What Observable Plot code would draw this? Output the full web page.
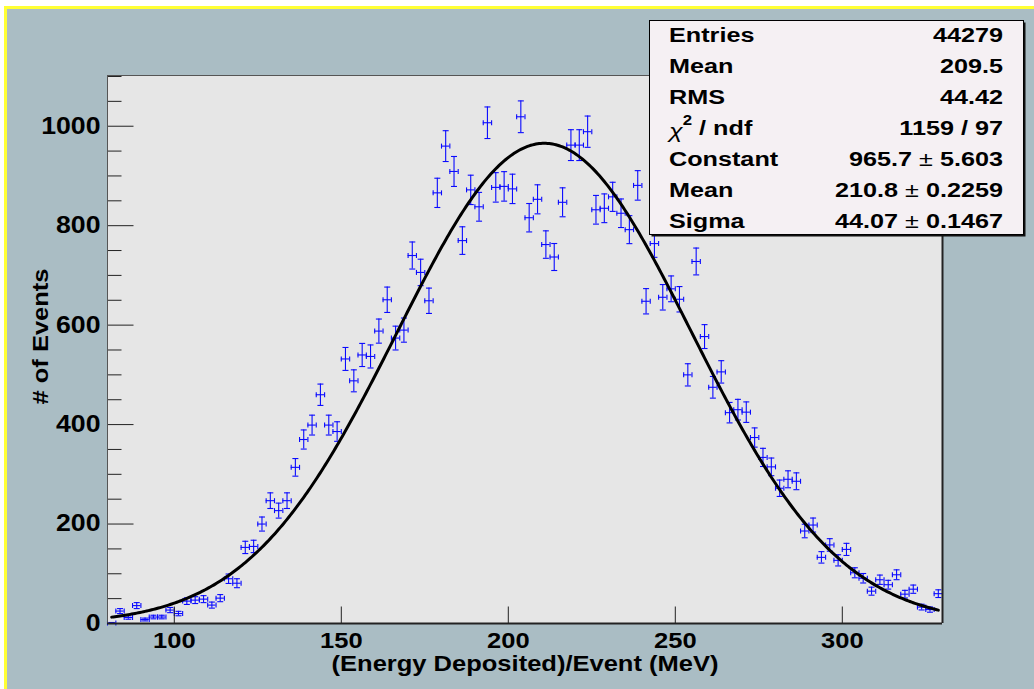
<!DOCTYPE html>
<html>
<head>
<meta charset="utf-8">
<script src="https://cdn.jsdelivr.net/npm/d3@7"></script>
<script src="https://cdn.jsdelivr.net/npm/@observablehq/plot@0.6"></script>
<style>
  html, body { margin: 0; padding: 0; background: #ffffff; }
  #chart { width: 1034px; height: 689px; }
</style>
</head>
<body>
<div id="chart"></div>
<script>
// Histogram binning: 100 bins of 2.5 MeV from 80 to 330 MeV
const binLow = 80;
const binWidth = 2.5;

// Events per bin
const counts = [
  1, 25, 12, 36, 8, 13, 13, 27, 20, 45,
  47, 49, 37, 51, 90, 81, 153, 155, 200, 247,
  227, 247, 314, 370, 399, 460, 399, 386, 532, 488,
  540, 537, 588, 651, 574, 590, 740, 706, 649, 866,
  960, 909, 770, 872, 838, 1007, 877, 879, 874, 1019,
  816, 853, 762, 737, 847, 962, 962, 989, 832, 835,
  858, 825, 792, 881, 648, 764, 656, 673, 652, 500,
  728, 577, 475, 506, 424, 430, 425, 374, 334, 315,
  272, 290, 286, 186, 198, 133, 158, 127, 149, 102,
  91, 65, 88, 78, 98, 59, 69, 33, 28, 60
];

// Gaussian fit parameters (from the statistics box)
const fitConstant = 965.7;
const fitMean = 210.8;
const fitSigma = 44.07;

// Statistics box rows
const statsLabels = ["Entries", "Mean", "RMS", "chi2", "Constant", "Mean", "Sigma"];
const statsValues = ["44279", "209.5", "44.42", "1159 / 97", "965.7 \u00b1 5.603", "210.8 \u00b1 0.2259", "44.07 \u00b1 0.1467"];

// Axis ticks
const xTicks = [100, 150, 200, 250, 300];
const yTicks = [0, 200, 400, 600, 800, 1000];
const yMinorTicks = [50, 100, 150, 250, 300, 350, 450, 500, 550, 650, 700, 750, 850, 900, 950, 1050, 1100];

const xDomain = [80, 330];
const yDomain = [0, 1102];

const bins = counts.map((n, i) => ({
  x: binLow + (i + 0.5) * binWidth,
  n,
  err: Math.sqrt(n)
}));

// Fitted Gaussian, evaluated across the filled bin range
const fitStart = bins[0].x, fitEnd = bins[bins.length - 1].x;
const fitCurve = d3.range(fitStart, fitEnd + 0.001, 0.5).map(x => ({
  x,
  y: fitConstant * Math.exp(-0.5 * ((x - fitMean) / fitSigma) ** 2)
}));

// Pixel-sized segment symbols for error-bar caps and inward ticks
const segH = w => ({draw(ctx) { ctx.moveTo(-w / 2, 0); ctx.lineTo(w / 2, 0); }});
const segV = h => ({draw(ctx) { ctx.moveTo(0, -h / 2); ctx.lineTo(0, h / 2); }});
const tickRight = L => ({draw(ctx) { ctx.moveTo(0, 0); ctx.lineTo(L, 0); }});
const tickUp = L => ({draw(ctx) { ctx.moveTo(0, 0); ctx.lineTo(0, -L); }});

const BLUE = "#0a0aff";
const FONT = "'Liberation Sans', Arial, Helvetica, sans-serif";
const label = {fontWeight: "bold", fill: "#000", textAnchor: "middle", lineAnchor: "middle"};

const plot = Plot.plot({
  width: 1034,
  height: 689,
  marginLeft: 107,
  marginRight: 92,
  marginTop: 75,
  marginBottom: 66,
  style: {background: "transparent", fontFamily: FONT, color: "#000"},
  x: {domain: xDomain, axis: null},
  y: {domain: yDomain, axis: null},
  marks: [
    Plot.frame({fill: "#e6e6e6", stroke: "none"}),
    // error bars
    Plot.ruleX(bins, {x: "x", y1: d => d.n - d.err, y2: d => d.n + d.err, stroke: BLUE, strokeWidth: 1.1}),
    Plot.ruleY(bins, {y: "n", x1: d => d.x - binWidth / 2, x2: d => d.x + binWidth / 2, stroke: BLUE, strokeWidth: 1.1}),
    Plot.dot(bins, {x: "x", y: d => d.n + d.err, symbol: segH(6), fill: "none", stroke: BLUE, strokeWidth: 1.1}),
    Plot.dot(bins, {x: "x", y: d => d.n - d.err, symbol: segH(6), fill: "none", stroke: BLUE, strokeWidth: 1.1}),
    Plot.dot(bins, {x: d => d.x - binWidth / 2, y: "n", symbol: segV(5), fill: "none", stroke: BLUE, strokeWidth: 1.1}),
    Plot.dot(bins, {x: d => d.x + binWidth / 2, y: "n", symbol: segV(5), fill: "none", stroke: BLUE, strokeWidth: 1.1}),
    // fit
    Plot.line(fitCurve, {x: "x", y: "y", stroke: "#000", strokeWidth: 3}),
    // inward ticks
    Plot.dot(yTicks, {y: d => d, frameAnchor: "left", symbol: tickRight(26), fill: "none", stroke: "#222", strokeWidth: 1}),
    Plot.dot(yMinorTicks, {y: d => d, frameAnchor: "left", symbol: tickRight(14), fill: "none", stroke: "#222", strokeWidth: 1}),
    Plot.dot(xTicks, {x: d => d, frameAnchor: "bottom", symbol: tickUp(17), fill: "none", stroke: "#222", strokeWidth: 1}),
    // frame border
    Plot.ruleX([xDomain[0]], {stroke: "#555", strokeWidth: 1}),
    Plot.ruleY([yDomain[1]], {stroke: "#555", strokeWidth: 1}),
    Plot.ruleX([xDomain[1]], {stroke: "#222", strokeWidth: 2}),
    Plot.ruleY([yDomain[0]], {stroke: "#222", strokeWidth: 2}),
    // tick labels
    Plot.text(yTicks, {...label, y: d => d, text: d => String(d), frameAnchor: "left", dx: -7, textAnchor: "end", fontSize: 23}),
    Plot.text(xTicks, {...label, x: d => d, text: d => String(d), frameAnchor: "bottom", dy: 17, fontSize: 22}),
    // axis titles
    Plot.text(["(Energy Deposited)/Event (MeV)"], {...label, text: d => d, frameAnchor: "bottom", dy: 40, fontSize: 22}),
    Plot.text(["# of Events"], {...label, text: d => d, frameAnchor: "left", dx: -67, dy: -13, rotate: -90, fontSize: 22})
  ]
});

const svg = d3.select(plot);

// Slightly wide lettering for every label (horizontal stretch about each anchor)
svg.selectAll("text").each(function () {
  const t = d3.select(this);
  const xa = t.attr("x");
  const x = xa && !/em/.test(xa) ? +xa : 0;
  if (xa && !/em/.test(xa)) t.attr("x", null);
  const tr = t.attr("transform") || "";
  t.attr("transform", `${tr} translate(${x},0) scale(1.16,1)`);
});

// Canvas background with yellow top/left edge
const bg = svg.insert("g", ":first-child");
bg.append("rect").attr("x", 0).attr("y", 0).attr("width", 1034).attr("height", 689).attr("fill", "#ffffff");
bg.append("rect").attr("x", 4).attr("y", 6).attr("width", 1030).attr("height", 683).attr("fill", "#ffff33");
bg.append("rect").attr("x", 7).attr("y", 9).attr("width", 1027).attr("height", 680).attr("fill", "#aabdc4");

// Statistics box
const box = svg.append("g").attr("font-family", FONT).attr("font-weight", "bold").attr("font-size", 21);
box.append("rect").attr("x", 651.5).attr("y", 22.5).attr("width", 374).attr("height", 214).attr("fill", "#111");
box.append("rect").attr("x", 649.5).attr("y", 20.5).attr("width", 374).attr("height", 214)
   .attr("fill", "#f5f0f3").attr("stroke", "#000").attr("stroke-width", 1);

const rowBase = 41.7, rowStep = 31.1;
statsLabels.forEach((name, i) => {
  const y = rowBase + i * rowStep;
  const lt = box.append("text").attr("transform", `translate(669,${y}) scale(1.2,1)`)
    .attr("text-anchor", "start").attr("fill", "#000");
  if (name === "chi2") {
    lt.append("tspan").attr("font-weight", "normal").attr("font-style", "italic").attr("dy", 3).text("\u03c7");
    lt.append("tspan").attr("dy", -13).attr("font-size", 14).text("2");
    lt.append("tspan").attr("dy", 10).text(" / ndf");
  } else {
    lt.text(name);
  }
  // plus-minus sign drawn in a lighter weight
  const vt = box.append("text").attr("transform", `translate(1003,${y}) scale(1.2,1)`)
     .attr("text-anchor", "end").attr("fill", "#000");
  const parts = statsValues[i].split("\u00b1");
  if (parts.length === 2) {
    vt.append("tspan").text(parts[0]);
    vt.append("tspan").attr("font-weight", "normal").text("\u00b1");
    vt.append("tspan").text(parts[1]);
  } else {
    vt.text(statsValues[i]);
  }
});

document.getElementById("chart").appendChild(plot);
</script>
</body>
</html>
